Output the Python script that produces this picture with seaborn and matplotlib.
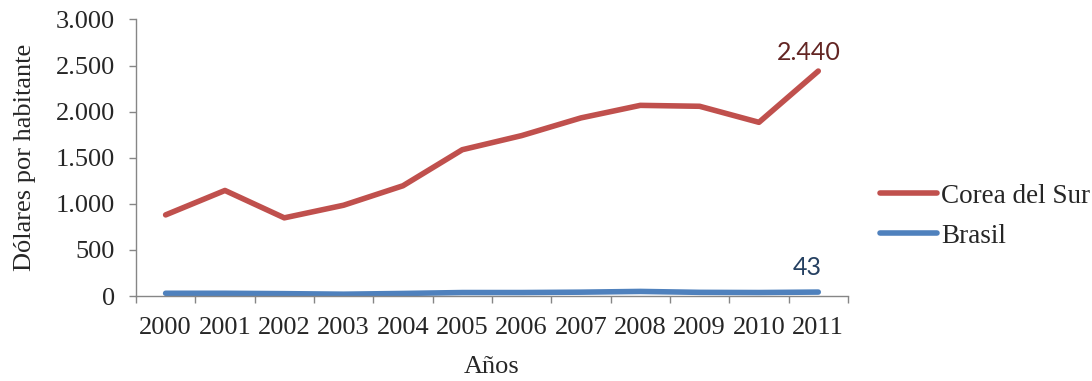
import matplotlib
matplotlib.use("Agg")
import matplotlib.pyplot as plt
import matplotlib.ticker as mticker
import seaborn as sns
import pandas as pd

# Gasto por habitante (dólares)
years = [2000, 2001, 2002, 2003, 2004, 2005, 2006, 2007, 2008, 2009, 2010, 2011]
corea = [880, 1145, 848, 985, 1196, 1587, 1740, 1932, 2068, 2058, 1884, 2440]
brasil = [30, 30, 26, 20, 28, 38, 38, 42, 50, 40, 38, 43]
series_names = ["Corea del Sur", "Brasil"]
colors = ["#C0504D", "#4F81BD"]
label_colors = ["#632523", "#254061"]

df = pd.DataFrame({"Año": years * 2,
                   "Valor": corea + brasil,
                   "Serie": [series_names[0]] * len(years) + [series_names[1]] * len(years)})

sns.set_theme(style="white")
plt.rcParams["font.family"] = ["Liberation Serif", "DejaVu Serif"]

FS = 19
LW = 4.0

fig = plt.figure(figsize=(10.92, 3.81), dpi=100)
ax = fig.add_axes([0.1245, 0.223, 0.652, 0.726])

sns.lineplot(data=df, x="Año", y="Valor", hue="Serie", hue_order=series_names,
             palette=colors, linewidth=LW, ax=ax, legend=False,
             solid_capstyle="round", solid_joinstyle="round")

ax.set_xlim(years[0] - 0.5, years[-1] + 0.5)
ax.set_ylim(0, 3000)
ax.yaxis.set_major_locator(mticker.MultipleLocator(500))
ax.yaxis.set_major_formatter(mticker.FuncFormatter(lambda v, p: f"{int(v):,}".replace(",", ".")))

# category boundaries carry the tick marks, labels sit at the centres
ax.xaxis.set_major_locator(mticker.FixedLocator([y - 0.5 for y in years] + [years[-1] + 0.5]))
ax.xaxis.set_major_formatter(mticker.NullFormatter())
ax.xaxis.set_minor_locator(mticker.FixedLocator(years))
ax.xaxis.set_minor_formatter(mticker.FixedFormatter([str(y) for y in years]))

spine_color = "#868686"
for s in ["top", "right"]:
    ax.spines[s].set_visible(False)
for s in ["left", "bottom"]:
    ax.spines[s].set_color(spine_color)
    ax.spines[s].set_linewidth(1.0)

ax.tick_params(axis="y", which="major", direction="out", length=5, width=1,
               color=spine_color, labelsize=FS, pad=10, left=True)
ax.tick_params(axis="x", which="major", direction="out", length=5, width=1,
               color=spine_color, bottom=True)
ax.tick_params(axis="x", which="minor", length=0, labelsize=FS, pad=15)

ax.set_xlabel("Años", fontsize=FS, labelpad=12)
ax.set_ylabel("Dólares por habitante", fontsize=FS, labelpad=14)

# value labels on the last year
ax.annotate(f"{corea[-1]:,}".replace(",", "."), xy=(years[-1], corea[-1]),
            xytext=(-7, 8), textcoords="offset points",
            color=label_colors[0], fontsize=18, family=["Lato", "DejaVu Sans"],
            ha="center", va="baseline")
ax.annotate(f"{brasil[-1]}", xy=(years[-1], brasil[-1]),
            xytext=(-8, 12), textcoords="offset points",
            color=label_colors[1], fontsize=18, family=["Lato", "DejaVu Sans"],
            ha="center", va="baseline")

handles = [plt.Line2D([], [], color=c, linewidth=LW, solid_capstyle="round") for c in colors]
fig.legend(handles, series_names, loc="center left", bbox_to_anchor=(0.806, 0.432),
           frameon=False, fontsize=19.5, handlelength=2.1, handletextpad=0.15,
           labelspacing=0.55, borderpad=0, borderaxespad=0)

fig.savefig("out.png", dpi=100)
